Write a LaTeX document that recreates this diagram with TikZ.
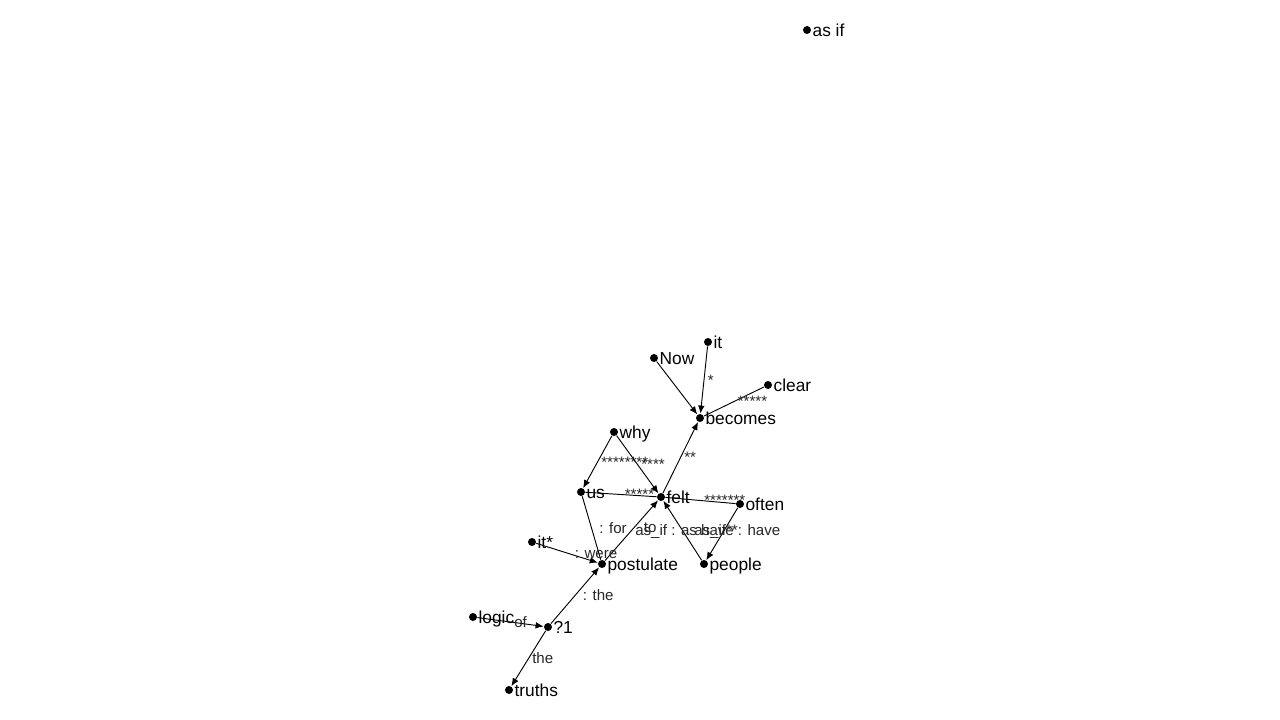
\documentclass[tikz,border=0pt]{standalone}
\usepackage{fontspec}
\setmainfont{Liberation Sans}
\usetikzlibrary{arrows.meta}
\tikzset{every path/.style={black,line width=0.7pt},
  dot/.style={circle,fill=black,inner sep=0pt,minimum size=6pt},
  lab/.style={inner sep=0.5pt,text height=9.3pt,text depth=0pt,font=\fontsize{13}{15}\selectfont},
  elab/.style={anchor=west,inner sep=2.5pt,text height=8pt,text depth=0pt,text=black!85,font=\fontsize{11.3}{13}\selectfont},
  arc/.style={-{Latex[length=6pt,width=5pt]}}}

\begin{document}
\begin{tikzpicture}[x=0.75pt,y=-0.75pt]
   \useasboundingbox (0,0) rectangle (1280,720);
   % words
   \node[dot,label={[lab]right:as if}]     (asif)      at (807, 30) {};
   \node[dot,label={[lab]right:it}]        (it)        at (708,342) {};
   \node[dot,label={[lab]right:Now}]       (now)       at (654,358) {};
   \node[dot,label={[lab]right:clear}]     (clear)     at (768,385) {};
   \node[dot,label={[lab]right:becomes}]   (becomes)   at (700,418) {};
   \node[dot,label={[lab]right:why}]       (why)       at (614,432) {};
   \node[dot,label={[lab]right:us}]        (us)        at (581,492) {};
   \node[dot,label={[lab]right:felt}]      (felt)      at (661,497) {};
   \node[dot,label={[lab]right:often}]     (often)     at (740,504) {};
   \node[dot,label={[lab]right:it*}]       (itstar)    at (532,542) {};
   \node[dot,label={[lab]right:postulate}] (postulate) at (602,564) {};
   \node[dot,label={[lab]right:people}]    (people)    at (704,564) {};
   \node[dot,label={[lab]right:logic}]     (logic)     at (473,617) {};
   \node[dot,label={[lab]right:?1}]        (q1)        at (548,627) {};
   \node[dot,label={[lab]right:truths}]    (truths)    at (509,690) {};
   % links
   \draw[arc] (now)    -- (becomes);
   \draw[arc] (it)     -- (becomes) node[elab,pos=.5] {*};
   \draw      (clear)  -- (becomes) node[elab,pos=.5] {*****};
   \draw[arc] (felt)   -- (becomes) node[elab,pos=.5] {**};
   \draw[arc] (why)    -- (us)      node[elab,pos=.5] {********};
   \draw[arc] (why)    -- (felt)    node[elab,pos=.5] {****};
   \draw      (us)     -- (felt)    node[elab,pos=.5] {*****};
   \draw      (often)  -- (felt)    node[elab,pos=.5] {*******};
   \draw[arc] (often)  -- (people);
   \draw[arc] (people) -- (felt)    node[elab,pos=.5,xshift=6pt] {as\_if**: have};
   \draw      (us)     -- (postulate) node[elab,pos=.5,xshift=3pt] {: for};
   \draw[arc] (postulate) -- (felt) node[elab,pos=.5] {as\_if : as have}
                                    node[elab,pos=.56,xshift=4pt] {to};
   \draw[arc] (itstar) -- (postulate) node[elab,pos=.5,xshift=3pt] {: were};
   \draw[arc] (q1)     -- (postulate) node[elab,pos=.5,xshift=3pt] {: the};
   \draw[arc] (logic)  -- (q1)      node[elab,pos=.5] {of};
   \draw[arc] (q1)     -- (truths)  node[elab,pos=.5] {the};
\end{tikzpicture}
\end{document}
